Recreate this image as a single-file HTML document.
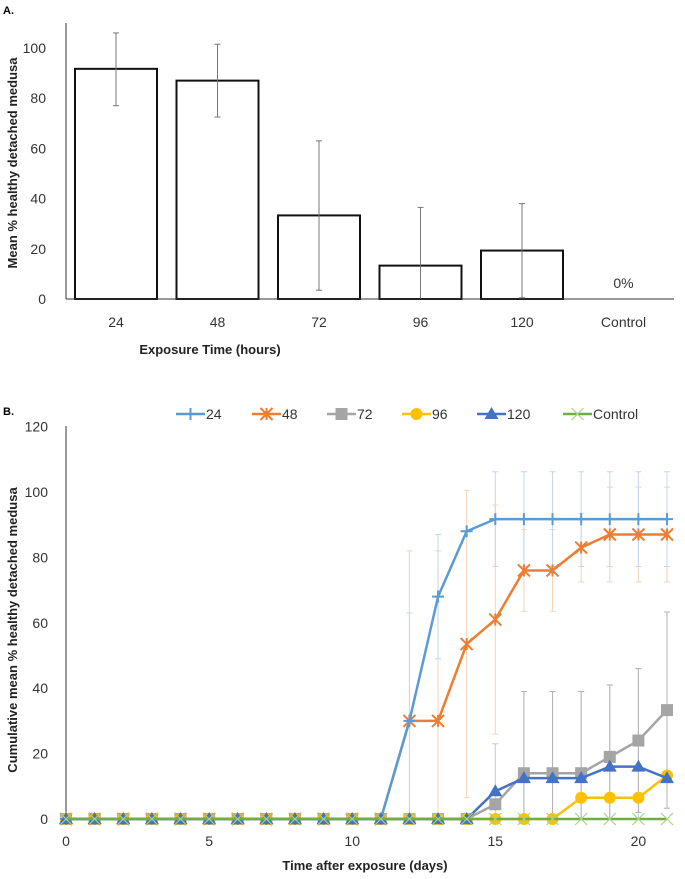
<!DOCTYPE html>
<html><head><meta charset="utf-8"><style>
html,body{margin:0;padding:0;background:#fff;}
svg{display:block;font-family:"Liberation Sans",sans-serif;}
</style></head><body>
<svg id="s" width="685" height="879" viewBox="0 0 685 879" xmlns="http://www.w3.org/2000/svg"></svg>
<script>
// ---- Chart A data ----
const barCats = ["24","48","72","96","120","Control"];
const barVals = [91.7, 87, 33.3, 13.3, 19.3, 0];
const barLo = [77, 72.5, 3.5, 0, 0.5, 0];
const barHi = [106, 101.5, 63, 36.5, 38, 0];
const aTicks = [0,20,40,60,80,100];
// ---- Chart B data ----
const days = [0,1,2,3,4,5,6,7,8,9,10,11,12,13,14,15,16,17,18,19,20,21];
const s24 = [0,0,0,0,0,0,0,0,0,0,0,0,30,68,88,91.7,91.7,91.7,91.7,91.7,91.7,91.7];
const s48 = [0,0,0,0,0,0,0,0,0,0,0,0,30,30,53.5,61,76,76,83,87,87,87];
const s72 = [0,0,0,0,0,0,0,0,0,0,0,0,0,0,0,4.5,14,14,14,19,24,33.3];
const s96 = [0,0,0,0,0,0,0,0,0,0,0,0,0,0,0,0,0,0,6.5,6.5,6.5,13.3];
const s120 = [0,0,0,0,0,0,0,0,0,0,0,0,0,0,0,8.5,12.5,12.5,12.5,16,16,12.5];
const sCtl = [0,0,0,0,0,0,0,0,0,0,0,0,0,0,0,0,0,0,0,0,0,0];
const e24 = [0,0,0,0,0,0,0,0,0,0,0,0,33,19,0,14.5,14.5,14.5,14.5,14.5,14.5,14.5];
const e48 = [0,0,0,0,0,0,0,0,0,0,0,0,52,52,47,35,12.5,12.5,10.5,14.5,14.5,14.5];
const e72 = [0,0,0,0,0,0,0,0,0,0,0,0,0,0,0,0,25,25,25,22,22,30];
const e120 = [0,0,0,0,0,0,0,0,0,0,0,0,0,0,0,14.5,26.5,26.5,26.5,25,30,0];
const bTicksY = [0,20,40,60,80,100,120];
const bTicksX = [0,5,10,15,20];

const S = document.getElementById('s');
const NS = "http://www.w3.org/2000/svg";
function mk(tag, attrs, parent){const e=document.createElementNS(NS,tag);for(const k in attrs)e.setAttribute(k,attrs[k]);(parent||S).appendChild(e);return e;}
function txt(x,y,t,attrs){const e=mk('text',Object.assign({x:x,y:y},attrs||{}));e.textContent=t;return e;}

// ===== Chart A =====
const aY = v => 299 - v*2.51;
const aX = i => 116 + i*101.5;
const gA = mk('g',{});


let t=txt(3,14,"A.",{'font-size':11,'font-weight':'bold'});

aTicks.forEach(v=>{const e=txt(46,aY(v)+5,String(v),{'font-size':14,'text-anchor':'end',fill:'#333'});
});
barCats.forEach((c,i)=>{
  if(barVals[i]>0){
    const r=mk('rect',{x:aX(i)-41,y:aY(barVals[i]),width:82,height:aY(0)-aY(barVals[i]),fill:'#fff',stroke:'#111','stroke-width':2});
    
    const l=mk('line',{x1:aX(i),x2:aX(i),y1:aY(barLo[i]),y2:aY(barHi[i]),stroke:'#777','stroke-width':1});
    
    [barLo[i],barHi[i]].forEach(v=>mk('line',{x1:aX(i)-3,x2:aX(i)+3,y1:aY(v),y2:aY(v),stroke:'#777'}));
  } else {
    const z=txt(aX(i),aY(0)-11,"0%",{'font-size':14,'text-anchor':'middle',fill:'#333'});
    
  }
  const e=txt(aX(i),327,c,{'font-size':14,'text-anchor':'middle',fill:'#333'});
  
});
let ax=mk('line',{x1:66,x2:66,y1:23,y2:299,stroke:'#333'});
ax=mk('line',{x1:66,x2:674,y1:299,y2:299,stroke:'#333'});
t=txt(210,354,"Exposure Time (hours)",{'font-size':13,'font-weight':'bold','text-anchor':'middle',fill:'#222'});

t=txt(0,0,"Mean % healthy detached medusa",{'font-size':13,'font-weight':'bold','text-anchor':'middle',fill:'#222',transform:'translate(17,163) rotate(-90)'});


// ===== Chart B =====
const bY = v => 819 - v*3.27;
const bX = d => 66 + d*28.62;
t=txt(3,415,"B.",{'font-size':11,'font-weight':'bold'});

bTicksY.forEach(v=>{const e=txt(48,bY(v)+5,String(v),{'font-size':14,'text-anchor':'end',fill:'#333'});
});
bTicksX.forEach(v=>{const e=txt(bX(v),846,String(v),{'font-size':14,'text-anchor':'middle',fill:'#333'});
});
ax=mk('line',{x1:66,x2:66,y1:426,y2:819,stroke:'#333'});

// error bars
function errs(vals,err,color,name){
  days.forEach((d,i)=>{ if(err[i]<=0) return;
    const lo=Math.max(0,vals[i]-err[i]), hi=vals[i]+err[i];
    const l=mk('line',{x1:bX(d),x2:bX(d),y1:bY(lo),y2:bY(hi),stroke:color,'stroke-width':1});
    
    [lo,hi].forEach(v=>mk('line',{x1:bX(d)-3,x2:bX(d)+3,y1:bY(v),y2:bY(v),stroke:color}));
  });
}
errs(s48,e48,'#f6d3b8','48');
errs(s24,e24,'#c5d6ee','24');
errs(s120,e120,'#c0c9e6','120');
errs(s72,e72,'#b3b3b3','72');

function marker(g,type,x,y,color){
  if(type==='plus'){mk('path',{d:`M${x-6} ${y}H${x+6}M${x} ${y-6}V${y+6}`,stroke:color,'stroke-width':2},g);}
  else if(type==='star'){mk('path',{d:`M${x-6} ${y-6}L${x+6} ${y+6}M${x-6} ${y+6}L${x+6} ${y-6}M${x} ${y-6}V${y+6}`,stroke:color,'stroke-width':2},g);}
  else if(type==='square'){mk('rect',{x:x-6,y:y-6,width:12,height:12,fill:color},g);}
  else if(type==='circle'){mk('circle',{cx:x,cy:y,r:6,fill:color},g);}
  else if(type==='tri'){mk('path',{d:`M${x} ${y-7}L${x+7} ${y+5}L${x-7} ${y+5}Z`,fill:color},g);}
  else if(type==='x'){mk('path',{d:`M${x-6} ${y-6}L${x+6} ${y+6}M${x-6} ${y+6}L${x+6} ${y-6}`,stroke:color,'stroke-width':1.2},g);}
}
function series(vals,color,type,name,mcolor){
  const g=mk('g',{});
  
  
  const pts=days.map((d,i)=>bX(d)+','+bY(vals[i])).join(' ');
  mk('polyline',{points:pts,fill:'none',stroke:color,'stroke-width':2.5,'stroke-linejoin':'round'},g);
  days.forEach((d,i)=>marker(g,type,bX(d),bY(vals[i]),mcolor||color));
}
series(s72,'#a5a5a5','square','72');
series(s96,'#ffc000','circle','96');
series(s48,'#ed7d31','star','48');
series(s24,'#5b9bd5','plus','24');
series(s120,'#4472c4','tri','120');
series(sCtl,'#70ad47','x','control','#a9d18e');

// legend
const legend=[["24",176,'#5b9bd5','plus'],["48",252,'#ed7d31','star'],["72",327,'#a5a5a5','square'],["96",402,'#ffc000','circle'],["120",477,'#4472c4','tri'],["Control",563,'#70ad47','x']];
legend.forEach(l=>{
  const g=mk('g',{});
  
  
  mk('line',{x1:l[1],x2:l[1]+29,y1:414,y2:414,stroke:l[2],'stroke-width':2.5},g);
  marker(g,l[3],l[1]+14.5,414,l[3]==='x'?'#a9d18e':l[2]);
  const e=mk('text',{x:l[1]+30,y:419,'font-size':14,fill:'#333'},g);e.textContent=l[0];
});
t=txt(365,870,"Time after exposure (days)",{'font-size':13,'font-weight':'bold','text-anchor':'middle',fill:'#222'});

t=txt(0,0,"Cumulative mean % healthy detached medusa",{'font-size':13,'font-weight':'bold','text-anchor':'middle',fill:'#222',transform:'translate(17,630) rotate(-90)'});

</script>
</body></html>
